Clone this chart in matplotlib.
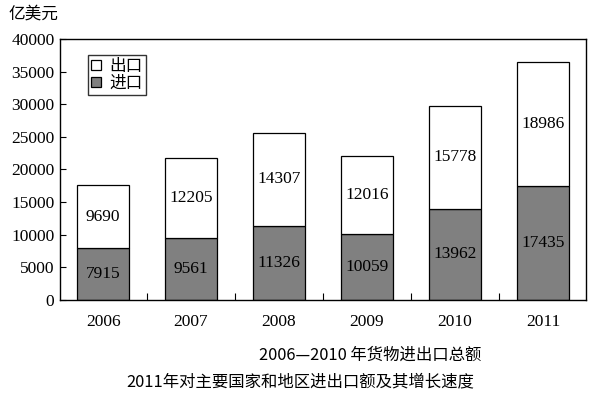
import matplotlib.pyplot as plt
import numpy as np

years = ["2006", "2007", "2008", "2009", "2010", "2011"]
imports = [7915, 9561, 11326, 10059, 13962, 17435]
exports = [9690, 12205, 14307, 12016, 15778, 18986]
yticks = [0, 5000, 10000, 15000, 20000, 25000, 30000, 35000, 40000]

serif = ["Liberation Serif", "DejaVu Serif"]
cjk = ["Noto Sans CJK SC", "DejaVu Sans"]

fig = plt.figure(figsize=(5.96, 3.94), dpi=100)
ax = fig.add_axes([60 / 596, 1 - 300 / 394, 526 / 596, 261 / 394])

x = np.arange(len(years))
w = 0.59
ax.bar(x, imports, w, color="#808080", edgecolor="black", linewidth=0.9, label="进口")
ax.bar(x, exports, w, bottom=imports, color="white", edgecolor="black", linewidth=0.9, label="出口")

for i in range(len(years)):
    ax.text(x[i], imports[i] / 2, str(imports[i]), ha="center", va="center",
            fontsize=12.5, family=serif)
    ax.text(x[i], imports[i] + exports[i] / 2, str(exports[i]), ha="center", va="center",
            fontsize=12.5, family=serif)

ax.set_xlim(-0.49, 5.49)
ax.set_ylim(0, 40000)
ax.set_yticks(yticks)
ax.set_yticklabels([str(v) for v in yticks], family=serif, fontsize=12.5)
ax.tick_params(axis="y", direction="in", length=4, width=0.8, pad=4)

ax.set_xticks(x)
ax.set_xticklabels(years, family=serif, fontsize=12.5)
ax.tick_params(axis="x", length=0, pad=10)
ax.set_xticks(x[:-1] + 0.5, minor=True)
ax.tick_params(axis="x", which="minor", direction="in", length=5, width=0.8)

for s in ax.spines.values():
    s.set_linewidth(1.0)

handles, labels = ax.get_legend_handles_labels()
leg = ax.legend(handles[::-1], labels[::-1], loc="upper left", bbox_to_anchor=(0.053, 0.94),
                prop={"family": cjk, "size": 12}, frameon=True, fancybox=False,
                edgecolor="black", handlelength=0.6, handleheight=0.6,
                handletextpad=0.5, borderpad=0.2, labelspacing=0.0, borderaxespad=0)
leg.get_frame().set_linewidth(1.0)

fig.text(8 / 596, 1 - 14 / 394, "亿美元", family=cjk, fontsize=12, va="center", ha="left")
fig.text(370 / 596, 1 - 355 / 394, "2006—2010 年货物进出口总额", family=cjk, fontsize=11.8,
         va="center", ha="center")
fig.text(300 / 596, 1 - 382 / 394, "2011年对主要国家和地区进出口额及其增长速度", family=cjk,
         fontsize=11.8, va="center", ha="center")

fig.savefig("out.png", dpi=100)
